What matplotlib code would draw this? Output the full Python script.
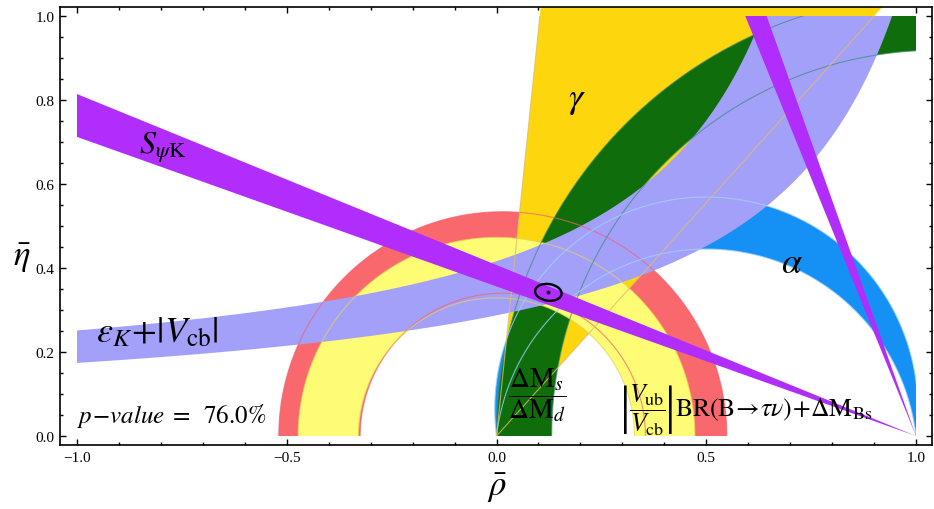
import numpy as np
import matplotlib
matplotlib.use("Agg")
import matplotlib.pyplot as plt
from matplotlib.patches import Polygon, Rectangle, Ellipse
from matplotlib.ticker import MultipleLocator, FuncFormatter

plt.rcParams['mathtext.fontset'] = 'stix'
plt.rcParams['font.family'] = ['Liberation Serif', 'DejaVu Serif']

# ---- constraint parameters (rho-bar, eta-bar plane) ----
# |Vub/Vcb| + BR(B->tau nu) rings, centred on the rho axis
red_center, red_r_in, red_r_out = 0.015, 0.34, 0.534
yel_center, yel_r_in, yel_r_out = 0.0, 0.329, 0.473
# gamma wedge from the origin (degrees)
gamma_lo, gamma_hi = 48.0, 84.1
# dMs/dMd ring centred near (1, 0)
dm_center, dm_r_in, dm_r_out = 1.05, 0.9185, 1.05
# alpha band: two circles through (0,0) and (1,0), centre (0.5, k)
alpha_k_out, alpha_k_in = 0.0648, -0.0582
# eps_K + |Vcb| band: eta = Q / (D - rho) + C
epsK_lo = (0.333, 1.2857, 0.0283)   # Q, D, C
epsK_hi = (0.325, 0.99, 0.088)
# S_psiK: beta angles (degrees), lines through (1, 0)
beta_lo, beta_hi = 19.6, 22.15
# best-fit apex
apex_rho, apex_eta = 0.1236, 0.342
apex_w, apex_h, apex_ang = 0.0636, 0.0397, -8.0
p_value = 76.0

col_red = '#f9686c'
col_yel = '#fefb74'
col_gold = '#fdd60e'
col_green = '#0f6e0b'
col_blue = '#1591f5'
col_lav = '#a3a0fa'
col_purp = '#b12dfc'

fig = plt.figure(figsize=(9.34, 5.10), dpi=100)
ax = fig.add_axes([60 / 934, 64 / 510, 872 / 934, 438 / 510])
ax.set_xlim(-1.0405, 1.0381)
ax.set_ylim(-0.0214, 1.0214)

box = Rectangle((-1, 0), 2, 1, transform=ax.transData)


def ring(cx, r_in, r_out, n=500):
    t = np.linspace(0, np.pi, n)
    outer = np.column_stack([cx + r_out * np.cos(t), r_out * np.sin(t)])
    inner = np.column_stack([cx + r_in * np.cos(t[::-1]), r_in * np.sin(t[::-1])])
    return np.vstack([outer, inner])


def add_shape(pts, color, z, clip=True):
    p = Polygon(pts, closed=True, facecolor=color, edgecolor='none', zorder=z)
    ax.add_patch(p)
    if clip:
        p.set_clip_path(box)
    return p


def alpha_arc(k, n=500):
    r = np.sqrt(0.25 + k ** 2)
    a0 = np.arcsin(-k / r)
    t = np.linspace(a0, np.pi - a0, n)
    return np.column_stack([0.5 + r * np.cos(t), k + r * np.sin(t)])


# filled regions, bottom to top
add_shape(ring(red_center, red_r_in, red_r_out), col_red, 1)
g = np.radians([gamma_lo, gamma_hi])
add_shape([(0, 0), (3 * np.cos(g[0]), 3 * np.sin(g[0])), (3 * np.cos(g[1]), 3 * np.sin(g[1]))],
          col_gold, 2, clip=False)
blue_out = alpha_arc(alpha_k_out)
blue_in = alpha_arc(alpha_k_in)
add_shape(np.vstack([blue_out, blue_in[::-1]]), col_blue, 2.5)
add_shape(ring(dm_center, dm_r_in, dm_r_out), col_green, 3)
add_shape(ring(yel_center, yel_r_in, yel_r_out), col_yel, 4)

x = np.linspace(-1, 1, 1200)
Q, D, C = epsK_lo
lav_lo = Q / (D - x) + C
Q, D, C = epsK_hi
lav_hi = np.where(x < D - 1e-3, Q / np.clip(D - x, 1e-3, None) + C, 5.0)
lav_hi = np.minimum(lav_hi, 5.0)
lav = ax.fill_between(x, lav_lo, lav_hi, color=col_lav, lw=0, zorder=6)
lav.set_clip_path(box)

# thin contour lines seen through the bands
t = np.linspace(0, np.pi, 500)
edges = [
    (red_center, red_r_out, '#f26070'), (red_center, red_r_in, '#f26070'),
    (yel_center, yel_r_out, '#e6d25a'), (yel_center, yel_r_in, '#e6d25a'),
    (dm_center, dm_r_out, '#3d8a78'), (dm_center, dm_r_in, '#3d8a78'),
]
for cx, r, c in edges:
    ln, = ax.plot(cx + r * np.cos(t), r * np.sin(t), color=c, lw=0.8, alpha=0.7, zorder=7)
    ln.set_clip_path(box)
for arc in (blue_out, blue_in):
    ln, = ax.plot(arc[:, 0], arc[:, 1], color='#9fd0ff', lw=0.8, alpha=0.8, zorder=7)
    ln.set_clip_path(box)
for a in g:
    ln, = ax.plot([0, 3 * np.cos(a)], [0, 3 * np.sin(a)], color='#e0bc6a', lw=0.8, alpha=0.8, zorder=7)
    ln.set_clip_path(box)

# S_psiK: the two beta solutions
b = np.radians([beta_lo, beta_hi])
add_shape([(1, 0), (-1, 2 * np.tan(b[0])), (-1, 2 * np.tan(b[1]))], col_purp, 8)
bp = np.pi / 2 - b
add_shape([(1, 0), (1 - 1.2 / np.tan(bp[0]), 1.2), (1 - 1.2 / np.tan(bp[1]), 1.2)], col_purp, 8)

# fit result
ax.add_patch(Ellipse((apex_rho, apex_eta), apex_w, apex_h, angle=apex_ang,
                     fill=False, edgecolor='black', lw=1.7, zorder=9))
ax.plot([apex_rho], [apex_eta], 'o', color='black', ms=1.8, zorder=9)

# labels
ax.text(-0.797, 0.688, r'$S_{\psi\mathrm{K}}$', fontsize=23, ha='center', va='center', zorder=10)
ax.text(0.192, 0.80, r'$\gamma$', fontsize=26, ha='center', va='center', zorder=10)
ax.text(0.704, 0.41, r'$\alpha$', fontsize=26, ha='center', va='center', zorder=10)
ax.text(-0.955, 0.248, r'$\epsilon_K\!+\!|V_{\mathrm{cb}}|$', fontsize=26, ha='left', va='center', zorder=10)
ax.text(-1.0, 0.05, r'$p\!-\!value\;=\;\;\mathrm{%.1f\%%}$' % p_value, fontsize=18,
        ha='left', va='center', zorder=10)
ax.text(0.097, 0.10, r'$\dfrac{\Delta\mathrm{M}_s}{\Delta\mathrm{M}_d}$', fontsize=20,
        ha='center', va='center', zorder=10)
# |Vub/Vcb| BR(B->tau nu) + dM_Bs, with thin absolute-value bars
for bx in (0.306, 0.414):
    ax.text(bx, 0.066, '|', fontsize=38, ha='center', va='center', zorder=10)
ax.text(0.36, 0.064, r'$\dfrac{V_{\mathrm{ub}}}{V_{\mathrm{cb}}}$', fontsize=18.5,
        ha='center', va='center', zorder=10)
ax.text(0.425, 0.064, r'$\mathrm{BR}(\mathrm{B}\!\rightarrow\!\tau\nu)\!+\!\Delta\mathrm{M}_{\mathrm{Bs}}$',
        fontsize=18.5, ha='left', va='center', zorder=10)

fig.text(22 / 934, 1 - 258 / 510, r'$\bar{\eta}$', fontsize=25, ha='center', va='center')
fig.text(497 / 934, 1 - 488 / 510, r'$\bar{\rho}$', fontsize=25, ha='center', va='center')

# frame ticks
fmt = FuncFormatter(lambda v, pos: f'{v:.1f}'.replace('-', '\u2212'))
ax.xaxis.set_major_locator(MultipleLocator(0.5))
ax.xaxis.set_minor_locator(MultipleLocator(0.1))
ax.yaxis.set_major_locator(MultipleLocator(0.2))
ax.yaxis.set_minor_locator(MultipleLocator(0.05))
ax.xaxis.set_major_formatter(fmt)
ax.yaxis.set_major_formatter(fmt)
ax.tick_params(which='both', direction='in', top=True, right=True, labelsize=11, width=1.0)
ax.tick_params(which='major', length=4.5, pad=4)
ax.tick_params(which='minor', length=2.5)
for s in ax.spines.values():
    s.set_linewidth(1.2)

fig.savefig('out.png', dpi=100)
